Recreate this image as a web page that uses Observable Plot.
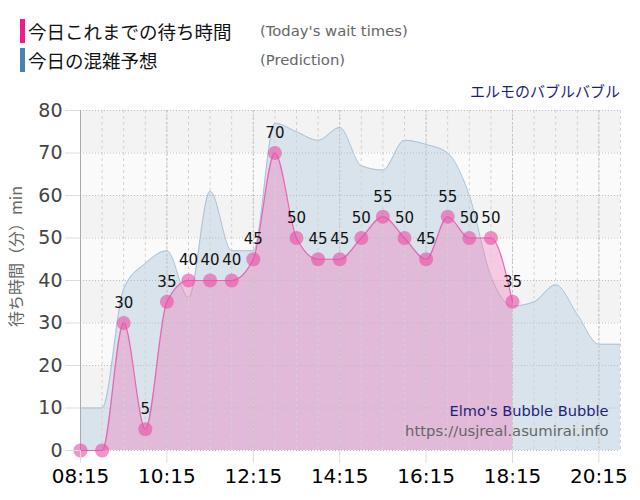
<!DOCTYPE html>
<html>
<head>
<meta charset="utf-8">
<script src="https://cdn.jsdelivr.net/npm/d3@7"></script>
<script src="https://cdn.jsdelivr.net/npm/@observablehq/plot@0.6"></script>
<style>
  html, body { margin: 0; padding: 0; background: #fff; }
  #wrap { position: relative; width: 640px; height: 500px; overflow: hidden; font-family: "DejaVu Sans", sans-serif; }
  .bar { position: absolute; left: 20px; width: 5px; height: 24px; }
  .jp { position: absolute; left: 28px; font-family: "Noto Sans CJK JP", sans-serif; font-size: 18.5px; color: #111; line-height: 24px; white-space: nowrap; }
  .en { position: absolute; left: 260px; font-family: "DejaVu Sans", sans-serif; font-size: 14.8px; color: #666; line-height: 24px; white-space: nowrap; }
  #title { position: absolute; right: 20px; top: 80px; font-family: "Noto Sans CJK JP", sans-serif; font-size: 15px; color: #1f1f78; line-height: 22px; white-space: nowrap; }
  #chart { position: absolute; left: 0; top: 100px; }
</style>
</head>
<body>
<div id="wrap">
  <div class="bar" style="top:19px; background:#ee1b8b;"></div>
  <div class="jp" style="top:19px;">今日これまでの待ち時間</div>
  <div class="en" style="top:19px;">(Today's wait times)</div>
  <div class="bar" style="top:48px; background:#4682b4;"></div>
  <div class="jp" style="top:48px;">今日の混雑予想</div>
  <div class="en" style="top:48px;">(Prediction)</div>
  <div id="title">エルモのバブルバブル</div>
  <div id="chart"></div>
</div>
<script>
// ---- data ----
const waitTimes = ["08:15","08:45","09:15","09:45","10:15","10:45","11:15","11:45","12:15","12:45","13:15","13:45","14:15","14:45","15:15","15:45","16:15","16:45","17:15","17:45","18:15"];
const waitValues = [0,0,30,5,35,40,40,40,45,70,50,45,45,50,55,50,45,55,50,50,35];

const predTimes = ["08:15","08:45","09:15","09:45","10:15","10:45","11:15","11:45","12:15","12:45","13:15","13:45","14:15","14:45","15:15","15:45","16:15","16:45","17:15","17:45","18:15","18:45","19:15","19:45","20:15","20:45"];
const predValues = [10,10,38,44,47,36,61,47,47,77,75,73,76,67,66,73,72,70,60,41,34,35,39,32,25,25];

const xTickLabels = ["08:15","10:15","12:15","14:15","16:15","18:15","20:15"];
const yTicks = [0,10,20,30,40,50,60,70,80];
const xStart = "08:15", xEnd = "20:45";

const watermark1 = "Elmo's Bubble Bubble";
const watermark2 = "https://usjreal.asumirai.info";
const yLabel = "待ち時間（分）min";

// ---- build ----
const parse = d3.timeParse("%H:%M");
const fmt = d3.timeFormat("%H:%M");
const xDomain = [parse(xStart), parse(xEnd)];
const wait = waitTimes.map((t, i) => ({t: parse(t), v: waitValues[i]}));
const pred = predTimes.map((t, i) => ({t: parse(t), v: predValues[i]}));
const xTicks = xTickLabels.map(parse);
const gridTimes = predTimes.map(parse);
const bands = yTicks.slice(0, -1).map((y, i) => ({y1: y, y2: yTicks[i + 1], odd: i % 2 === 1}));

const chart = Plot.plot({
  width: 640,
  height: 400,
  marginTop: 10,
  marginBottom: 50,
  marginLeft: 80,
  marginRight: 20,
  style: {fontFamily: "DejaVu Sans, sans-serif", background: "transparent", overflow: "visible"},
  x: {type: "time", domain: xDomain},
  y: {domain: [0, 80]},
  marks: [
    Plot.rect(bands.filter(d => d.odd), {x1: () => xDomain[0], x2: () => xDomain[1], y1: "y1", y2: "y2", fill: "#f3f3f3"}),
    Plot.rect(bands.filter(d => !d.odd), {x1: () => xDomain[0], x2: () => xDomain[1], y1: "y1", y2: "y2", fill: "#fafafa"}),
    Plot.areaY(pred, {x: "t", y: "v", curve: "monotone-x", fill: "#d8e3eb"}),
    Plot.lineY(pred, {x: "t", y: "v", curve: "monotone-x", stroke: "#a9c1d6", strokeWidth: 1}),
    Plot.areaY(wait, {x: "t", y: "v", curve: "monotone-x", fill: "#f06eb4", fillOpacity: 0.35}),
    Plot.ruleX(gridTimes, {stroke: "#d2d2d2", strokeDasharray: "3,3", strokeWidth: 1}),
    Plot.ruleX(xTicks, {stroke: "#c4c4c4", strokeDasharray: "2,2", strokeWidth: 1}),
    Plot.gridY({ticks: yTicks, stroke: "#bdbdbd", strokeOpacity: 1, strokeDasharray: "1,2"}),
    Plot.ruleX([xDomain[0]], {stroke: "#aaaaaa", strokeWidth: 1}),
    Plot.lineY(wait, {x: "t", y: "v", curve: "monotone-x", stroke: "#e766b0", strokeWidth: 1.2}),
    Plot.dot(wait, {x: "t", y: "v", r: 7, fill: "#ea4ca6", fillOpacity: 0.6}),
    Plot.text(wait.slice(2), {x: "t", y: "v", text: d => String(d.v), dy: -20, fontSize: 15, fill: "#111"}),
    Plot.text([watermark1], {frameAnchor: "bottom-right", text: d => d, dx: -12, dy: -39, lineAnchor: "middle", textAnchor: "end", fontSize: 14.6, fill: "#1f1f78"}),
    Plot.text([watermark2], {frameAnchor: "bottom-right", text: d => d, dx: -12, dy: -19, lineAnchor: "middle", textAnchor: "end", fontSize: 14.8, fill: "#666"}),
    Plot.text([yLabel], {frameAnchor: "left", text: d => d, dx: -64, dy: -24, rotate: -90, textAnchor: "middle", lineAnchor: "middle", fontSize: 16, fill: "#666", fontFamily: "Noto Sans CJK JP, sans-serif"}),
    Plot.axisY({ticks: yTicks, tickSize: 15, color: "#dddddd", tickFormat: () => "", label: null}),
    Plot.axisY({ticks: yTicks, tickSize: 0, tickPadding: 18, fontSize: 19, color: "#444", label: null}),
    Plot.axisX({ticks: xTicks, tickSize: 13, color: "#dddddd", tickFormat: () => "", label: null}),
    Plot.axisX({ticks: xTicks, tickSize: 0, tickPadding: 18, fontSize: 20, color: "#000", tickFormat: fmt, label: null})
  ]
});
document.getElementById("chart").appendChild(chart);
</script>
</body>
</html>
